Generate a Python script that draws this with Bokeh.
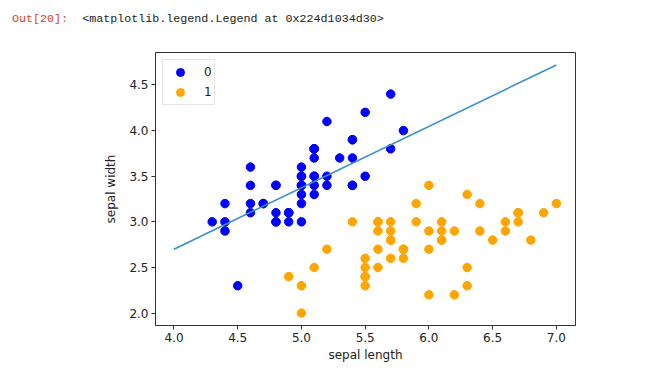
from bokeh.plotting import figure
from bokeh.models import Range1d, Legend, LegendItem, FixedTicker, PrintfTickFormatter, Div
from bokeh.layouts import column
from bokeh.embed import file_html
from bokeh.resources import INLINE

# class 0 (setosa): sepal length / sepal width
x0 = [5.1, 4.9, 4.7, 4.6, 5.0, 5.4, 4.6, 5.0, 4.4, 4.9, 5.4, 4.8, 4.8, 4.3, 5.8, 5.7, 5.4,
      5.1, 5.7, 5.1, 5.4, 5.1, 4.6, 5.1, 4.8, 5.0, 5.0, 5.2, 5.2, 4.7, 4.8, 5.4, 5.2, 5.5,
      4.9, 5.0, 5.5, 4.9, 4.4, 5.1, 5.0, 4.5, 4.4, 5.0, 5.1, 4.8, 5.1, 4.6, 5.3, 5.0]
y0 = [3.5, 3.0, 3.2, 3.1, 3.6, 3.9, 3.4, 3.4, 2.9, 3.1, 3.7, 3.4, 3.0, 3.0, 4.0, 4.4, 3.9,
      3.5, 3.8, 3.8, 3.4, 3.7, 3.6, 3.3, 3.4, 3.0, 3.4, 3.5, 3.4, 3.2, 3.1, 3.4, 4.1, 4.2,
      3.1, 3.2, 3.5, 3.1, 3.0, 3.4, 3.5, 2.3, 3.2, 3.5, 3.8, 3.0, 3.8, 3.2, 3.7, 3.3]
# class 1 (versicolor)
x1 = [7.0, 6.4, 6.9, 5.5, 6.5, 5.7, 6.3, 4.9, 6.6, 5.2, 5.0, 5.9, 6.0, 6.1, 5.6, 6.7, 5.6,
      5.8, 6.2, 5.6, 5.9, 6.1, 6.3, 6.1, 6.4, 6.6, 6.8, 6.7, 6.0, 5.7, 5.5, 5.5, 5.8, 6.0,
      5.4, 6.0, 6.7, 6.3, 5.6, 5.5, 5.5, 6.1, 5.8, 5.0, 5.6, 5.7, 5.7, 6.2, 5.1, 5.7]
y1 = [3.2, 3.2, 3.1, 2.3, 2.8, 2.8, 3.3, 2.4, 2.9, 2.7, 2.0, 3.0, 2.2, 2.9, 2.9, 3.1, 3.0,
      2.7, 2.2, 2.5, 3.2, 2.8, 2.5, 2.8, 2.9, 3.0, 2.8, 3.0, 2.9, 2.6, 2.4, 2.4, 2.7, 2.7,
      3.0, 3.4, 3.1, 2.3, 3.0, 2.5, 2.6, 3.0, 2.6, 2.3, 2.7, 3.0, 2.9, 2.9, 2.5, 2.8]
# decision boundary
line_x = [4.0, 7.0]
line_y = [2.70, 4.72]

x_ticks = [4.0, 4.5, 5.0, 5.5, 6.0, 6.5, 7.0]
y_ticks = [2.0, 2.5, 3.0, 3.5, 4.0, 4.5]
legend_labels = ["0", "1"]

header = Div(
    text='<span style="color:#d84315">Out[20]:</span>&nbsp;&nbsp;'
         '<span style="color:#222222">&lt;matplotlib.legend.Legend at 0x224d1034d30&gt;</span>',
    width=640, height=30, margin=0,
    styles={"font-family": "Liberation Mono", "font-size": "11.7px", "line-height": "14px",
            "white-space": "pre", "padding-left": "12px", "padding-top": "12px"})

p = figure(width=644, height=342, output_backend="svg", toolbar_location=None, margin=0,
           x_range=Range1d(3.855, 7.15), y_range=Range1d(1.864, 4.856),
           min_border_left=155, min_border_right=69, min_border_top=22, min_border_bottom=47)
p.xgrid.visible = False
p.ygrid.visible = False
p.outline_line_color = "#333333"
p.outline_line_width = 1

for ax in (p.xaxis, p.yaxis):
    ax.major_tick_in = 0
    ax.major_tick_out = 4
    ax.minor_tick_line_color = None
    ax.axis_line_color = "#333333"
    ax.major_tick_line_color = "#333333"
    ax.major_label_text_font = "DejaVu Sans"
    ax.major_label_text_font_size = "12px"
    ax.major_label_text_color = "#222222"
    ax.axis_label_text_font = "DejaVu Sans"
    ax.axis_label_text_font_size = "12px"
    ax.axis_label_text_font_style = "normal"
    ax.axis_label_text_color = "#222222"
    ax.formatter = PrintfTickFormatter(format="%.1f")
p.xaxis.ticker = FixedTicker(ticks=x_ticks)
p.yaxis.ticker = FixedTicker(ticks=y_ticks)
p.xaxis.major_label_standoff = 3
p.yaxis.major_label_standoff = 3
p.xaxis.axis_label = "sepal length"
p.yaxis.axis_label = "sepal width"
p.xaxis.axis_label_standoff = 3
p.yaxis.axis_label_standoff = 8

r0 = p.scatter(x0, y0, size=8.5, color="#0000ff")
r1 = p.scatter(x1, y1, size=8.5, color="#ffa500")
p.line(line_x, line_y, line_width=1.6, color="#3a8fc7")

legend = Legend(items=[LegendItem(label=legend_labels[0], renderers=[r0]),
                       LegendItem(label=legend_labels[1], renderers=[r1])],
                location="top_left", margin=7, padding=2, spacing=-1,
                glyph_width=30, glyph_height=20, label_height=20, label_width=8,
                label_standoff=9,
                label_text_font="DejaVu Sans", label_text_font_size="12px",
                label_text_color="#222222",
                border_line_color="#cccccc", border_line_width=1,
                background_fill_alpha=0.8)
p.add_layout(legend, "center")

layout = column(header, p, spacing=0, margin=0)
open("out.html", "w").write(file_html(layout, INLINE))
